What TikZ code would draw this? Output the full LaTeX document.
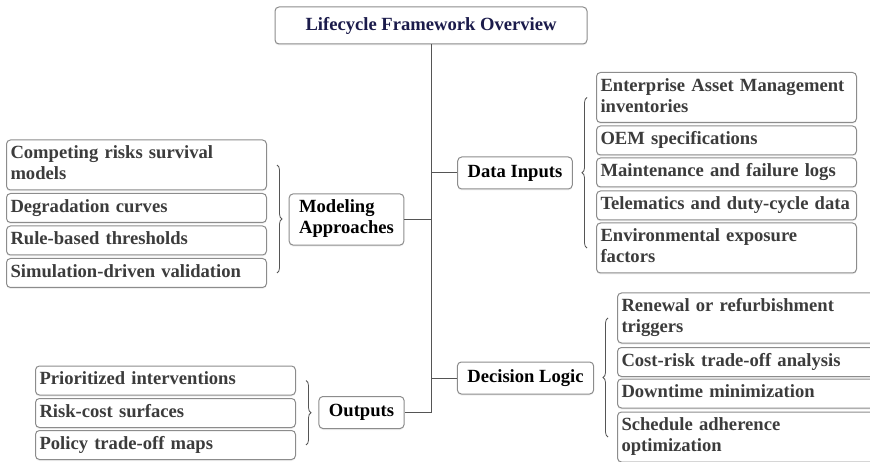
\documentclass[tikz,border=0pt]{standalone}
\usepackage{fontspec}
\setmainfont{Liberation Serif}
\usepackage{tikz}
\usetikzlibrary{positioning,decorations.pathreplacing,shadows}
\definecolor{titleblue}{HTML}{1B1B4B}
\definecolor{leaftext}{HTML}{3C3C3C}
\definecolor{boxline}{HTML}{8C8C8C}
\definecolor{trunk}{HTML}{555555}
\newcommand{\boxfont}{\fontsize{18.6}{21}\selectfont\bfseries}
\tikzset{
  rootbox/.style={draw=boxline, line width=1pt, rounded corners=4pt, fill=white, minimum width=312pt, minimum height=37pt, text=titleblue, font=\boxfont, drop shadow={shadow xshift=0pt, shadow yshift=-1.5pt, fill=black!12}},
  branch/.style={draw=boxline, line width=1pt, rounded corners=4pt, fill=white, inner xsep=10pt, inner ysep=5.5pt, align=left, font=\boxfont, text=black, execute at begin node=\strut, execute at end node=\strut, drop shadow={shadow xshift=0pt, shadow yshift=-1.5pt, fill=black!12}},
  leaf/.style={draw=boxline, line width=1pt, rounded corners=4pt, fill=white, text width=252pt, inner xsep=4pt, inner ysep=4pt, align=left, font=\boxfont, text=leaftext, execute at begin node=\strut, execute at end node=\strut, drop shadow={shadow xshift=0pt, shadow yshift=-1.5pt, fill=black!12}},
  link/.style={draw=trunk, line width=1pt},
  grp/.style={draw=trunk, line width=0.8pt, decorate, decoration={brace, amplitude=5pt}},
}

\begin{document}
\begin{tikzpicture}[x=1pt, y=-1pt]
  \useasboundingbox (0,0) rectangle (870,462);
  \clip (0,0) rectangle (870,462);

  % --- Root and branches ---
  \node[rootbox] (T) at (431,25.5) {Lifecycle Framework Overview};
  \node[branch] (DI) at (515,173) {Data Inputs};
  \node[branch] (MA) at (346.5,219.5) {Modeling\\Approaches};
  \node[branch] (DL) at (525.5,378) {Decision Logic};
  \node[branch] (OU) at (361.5,412.5) {Outputs};

  % trunk and elbows
  \draw[link] (T.south) -- (T.south |- OU.east) -- (OU.east);
  \draw[link] (DI.west -| T.south) -- (DI.west);
  \draw[link] (MA.east) -- (MA.east -| T.south);
  \draw[link] (DL.west -| T.south) -- (DL.west);

  % --- Data inputs ---
  \node[leaf, anchor=west] (D1) at (596,97.5) {Enterprise Asset Management\\inventories};
  \node[leaf, anchor=west] (D2) at (596,140.5) {OEM specifications};
  \node[leaf, anchor=west] (D3) at (596,172.5) {Maintenance and failure logs};
  \node[leaf, anchor=west] (D4) at (596,205.5) {Telematics and duty-cycle data};
  \node[leaf, anchor=west] (D5) at (596,248) {Environmental exposure\\factors};
  \draw[grp] ([xshift=-9pt]D5.west) -- ([xshift=-9pt]D1.west);

  % --- Modeling approaches ---
  \node[leaf, anchor=east] (M1) at (267,165) {Competing risks survival\\models};
  \node[leaf, anchor=east] (M2) at (267,208) {Degradation curves};
  \node[leaf, anchor=east] (M3) at (267,240.5) {Rule-based thresholds};
  \node[leaf, anchor=east] (M4) at (267,273) {Simulation-driven validation};
  \draw[grp] ([xshift=10pt]M1.east) -- ([xshift=10pt]M4.east);

  % --- Decision logic ---
  \node[leaf, anchor=west] (L1) at (617,318) {Renewal or refurbishment\\triggers};
  \node[leaf, anchor=west] (L2) at (617,362) {Cost-risk trade-off analysis};
  \node[leaf, anchor=west] (L3) at (617,393.5) {Downtime minimization};
  \node[leaf, anchor=west] (L4) at (617,437) {Schedule adherence\\optimization};
  \draw[grp] ([xshift=-9pt]L4.west) -- ([xshift=-9pt]L1.west);

  % --- Outputs ---
  \node[leaf, anchor=east] (O1) at (296,380.5) {Prioritized interventions};
  \node[leaf, anchor=east] (O2) at (296,413) {Risk-cost surfaces};
  \node[leaf, anchor=east] (O3) at (296,445) {Policy trade-off maps};
  \draw[grp] ([xshift=10pt]O1.east) -- ([xshift=10pt]O3.east);
\end{tikzpicture}
\end{document}
